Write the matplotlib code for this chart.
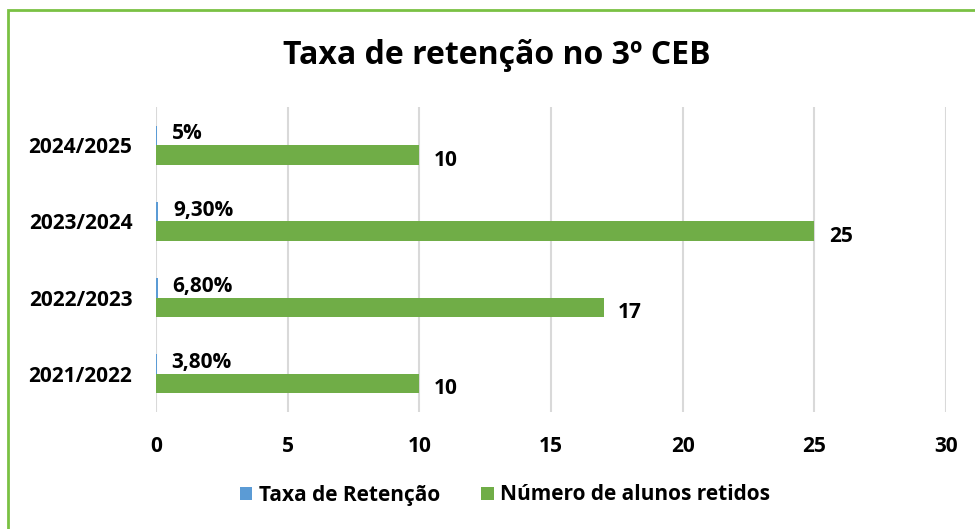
import matplotlib
matplotlib.use("Agg")
import matplotlib.pyplot as plt
from matplotlib.patches import Rectangle
import numpy as np

categories = ["2021/2022", "2022/2023", "2023/2024", "2024/2025"]
taxa = [0.038, 0.068, 0.093, 0.05]
taxa_labels = ["3,80%", "6,80%", "9,30%", "5%"]
alunos = [10, 17, 25, 10]
xticks = [0, 5, 10, 15, 20, 25, 30]

plt.rcParams['font.family'] = ['Open Sans', 'DejaVu Sans']
W, H = 975, 529
fig = plt.figure(figsize=(W/100, H/100), dpi=100)

left, right, top, bottom = 156, 946, 107, 412
ax = fig.add_axes([left/W, 1-bottom/H, (right-left)/W, (bottom-top)/H])

blue = "#5B9BD5"
green = "#70AD47"
y = np.arange(len(categories))
bh = 0.255
ax.barh(y + bh/2, taxa, height=bh, color=blue, label="Taxa de Retenção")
ax.barh(y - bh/2, alunos, height=bh, color=green, label="Número de alunos retidos")

fs = 15
for yi, v, lab in zip(y, taxa, taxa_labels):
    ax.text(v + 0.55, yi + bh/2 + 0.02, lab, va="center", ha="left",
            fontsize=fs, fontweight="bold", color="black")
for yi, v in zip(y, alunos):
    ax.text(v + 0.55, yi - bh/2 - 0.07, str(v), va="center", ha="left",
            fontsize=fs, fontweight="bold", color="black")

ax.set_xlim(0, 30)
ax.set_ylim(-0.5, 3.5)
ax.set_xticks(xticks)
ax.set_xticklabels([str(t) for t in xticks], fontsize=fs, fontweight="bold")
ax.set_yticks(y)
ax.set_yticklabels(categories, fontsize=fs, fontweight="bold")
ax.tick_params(axis="both", length=0)
ax.tick_params(axis="x", pad=17)
ax.tick_params(axis="y", pad=17)
for s in ax.spines.values():
    s.set_visible(False)
ax.grid(axis="x", color="#D9D9D9", linewidth=1.5)
ax.set_axisbelow(True)

fig.text(497/W, 1-55/H, "Taxa de retenção no 3º CEB", ha="center", va="center",
         fontsize=23, fontweight="bold")

leg = fig.legend(loc="center", bbox_to_anchor=(505/W, 1-495/H), ncol=2, frameon=False,
                 prop={"size": 15, "weight": "bold"}, handlelength=0.6, handleheight=0.6,
                 handletextpad=0.3, columnspacing=2.0)

fig.patches.append(Rectangle((8/W, -0.1), 1.2, 1 - 10/H + 0.1, transform=fig.transFigure,
                             fill=False, edgecolor="#7AC143", linewidth=2))

fig.savefig("out.png", dpi=100)
